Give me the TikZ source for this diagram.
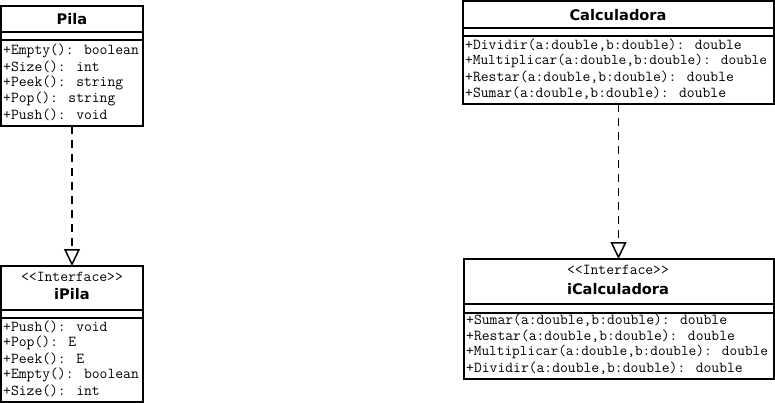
\documentclass[tikz,border=0pt]{standalone}
\usepackage{fontspec}
\newfontfamily\titlef{DejaVu Sans}
\usetikzlibrary{arrows.meta}
\begin{document}
\begin{tikzpicture}[x=1pt,y=-1pt,
  box/.style={draw=black,line width=1.7pt,fill=white,inner sep=0pt,outer sep=0pt,anchor=north west},
  sep/.style={line width=1.5pt},
  meth/.style={font=\ttfamily\fontsize{15.2}{18}\selectfont,anchor=west,inner sep=0pt},
  meths/.style={font=\ttfamily\fontsize{14.9}{18}\selectfont,anchor=west,inner sep=0pt},
  stereo/.style={font=\ttfamily\fontsize{15.2}{18}\selectfont,inner sep=0pt},
  ttl/.style={font=\titlef\bfseries\fontsize{14.6}{17}\selectfont,inner sep=0pt},
  realize/.style={line width=1.6pt,dash pattern=on 8pt off 6pt,
    -{Triangle[open,width=16pt,length=17pt,line width=1.5pt]}}
]
\useasboundingbox (0,0) rectangle (775,403);

% ---------- Pila ----------
\node[box,minimum width=142pt,minimum height=120pt] (pila) at (1,6) {};
\node[ttl] (pilat) at (72,19) {Pila};
\draw[sep] (pila.west |- 0,32) -- (pila.east |- 0,32);
\draw[sep] (pila.west |- 0,40) -- (pila.east |- 0,40);
\node[meth] (pila1) at (3,51) {+Empty(): boolean};
\node[meth] (pila2) at (3,67) {+Size(): int};
\node[meth] (pila3) at (3,83) {+Peek(): string};
\node[meth] (pila4) at (3,99) {+Pop(): string};
\node[meth] (pila5) at (3,115) {+Push(): void};

% ---------- iPila ----------
\node[box,minimum width=142pt,minimum height=136pt] (ipila) at (1,266) {};
\node[stereo] (ipilas) at (72,277) {<<Interface>>};
\node[ttl] (ipilat) at (72,294) {iPila};
\draw[sep] (ipila.west |- 0,310) -- (ipila.east |- 0,310);
\draw[sep] (ipila.west |- 0,318) -- (ipila.east |- 0,318);
\node[meth] (ipila1) at (3,327) {+Push(): void};
\node[meth] (ipila2) at (3,343) {+Pop(): E};
\node[meth] (ipila3) at (3,359) {+Peek(): E};
\node[meth] (ipila4) at (3,375) {+Empty(): boolean};
\node[meth] (ipila5) at (3,391) {+Size(): int};

% ---------- Calculadora ----------
\node[box,minimum width=311pt,minimum height=103pt] (calc) at (463,1) {};
\node[ttl] (calct) at (618,15) {Calculadora};
\draw[sep] (calc.west |- 0,28) -- (calc.east |- 0,28);
\draw[sep] (calc.west |- 0,36) -- (calc.east |- 0,36);
\node[meth] (calc1) at (465,45) {+Dividir(a:double,b:double): double};
\node[meths] (calc2) at (465,61) {+Multiplicar(a:double,b:double): double};
\node[meth] (calc3) at (465,77) {+Restar(a:double,b:double): double};
\node[meth] (calc4) at (465,93) {+Sumar(a:double,b:double): double};

% ---------- iCalculadora ----------
\node[box,minimum width=310pt,minimum height=120pt] (icalc) at (464,259) {};
\node[stereo] (icalcs) at (618,270) {<<Interface>>};
\node[ttl] (icalct) at (618,289) {iCalculadora};
\draw[sep] (icalc.west |- 0,304) -- (icalc.east |- 0,304);
\draw[sep] (icalc.west |- 0,313) -- (icalc.east |- 0,313);
\node[meth] (icalc1) at (466,320) {+Sumar(a:double,b:double): double};
\node[meth] (icalc2) at (466,336) {+Restar(a:double,b:double): double};
\node[meths] (icalc3) at (466,352) {+Multiplicar(a:double,b:double): double};
\node[meth] (icalc4) at (466,368) {+Dividir(a:double,b:double): double};

% ---------- connectors ----------
\draw[realize] (pila.south) -- (ipila.north);
\draw[realize] (calc.south) -- (calc.south |- icalc.north);
\end{tikzpicture}
\end{document}
